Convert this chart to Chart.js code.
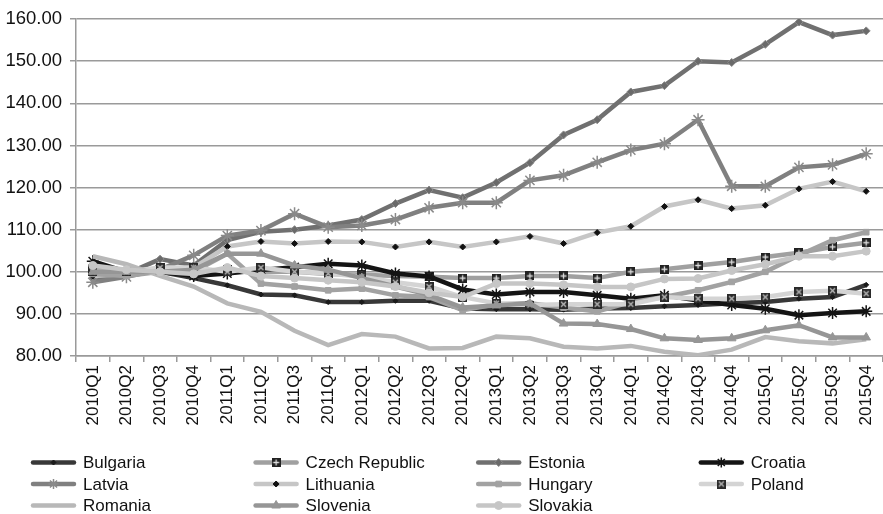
<!DOCTYPE html>
<html>
<head>
<meta charset="utf-8">
<script src="https://cdn.jsdelivr.net/npm/chart.js@4.4.1/dist/chart.umd.min.js"></script>
<style>
  html, body { margin: 0; padding: 0; background: #fff; }
  #wrap { width: 883px; height: 514px; position: relative; }
</style>
</head>
<body>
<div id="wrap"><canvas id="myChart"></canvas></div>
<script>
const quarters = ['2010Q1', '2010Q2', '2010Q3', '2010Q4', '2011Q1', '2011Q2', '2011Q3', '2011Q4',
    '2012Q1', '2012Q2', '2012Q3', '2012Q4', '2013Q1', '2013Q2', '2013Q3', '2013Q4',
    '2014Q1', '2014Q2', '2014Q3', '2014Q4', '2015Q1', '2015Q2', '2015Q3', '2015Q4'];

const bulgaria = [98.5, 99.5, 100, 98.5, 96.8, 94.6, 94.4, 92.8, 92.8, 93.1, 93.1, 91.3, 91.1, 91.1, 91.0, 91.3, 91.4, 91.8, 92.1, 92.5, 92.8, 93.6, 94.0, 96.9];
const czechRepublic = [100.5, 100, 100, 99.8, 100.5, 100.0, 100.0, 99.5, 99.3, 99.0, 98.8, 98.5, 98.5, 99.0, 99.0, 98.5, 100.0, 100.6, 101.5, 102.3, 103.5, 104.5, 105.9, 106.9];
const estonia = [98.5, 99.5, 103, 101.5, 107.5, 109.5, 110, 111, 112.4, 116.2, 119.4, 117.6, 121.2, 125.9, 132.5, 136.1, 142.7, 144.2, 150, 149.7, 154, 159.3, 156.2, 157.2];
const croatia = [102.5, 100, 100, 99, 99.6, 100.4, 101.1, 101.9, 101.5, 99.6, 98.9, 95.8, 94.6, 95.2, 95.2, 94.4, 93.6, 94.4, 93.2, 92.1, 91.2, 89.7, 90.2, 90.6];
const latvia = [97.5, 98.8, 100.5, 103.9, 108.6, 109.8, 113.8, 110.6, 111.0, 112.4, 115.2, 116.4, 116.4, 121.7, 122.9, 126.0, 128.9, 130.4, 136.1, 120.3, 120.3, 124.8, 125.4, 128.0];
const lithuania = [99, 99.5, 100, 101, 106, 107.2, 106.7, 107.2, 107.1, 105.9, 107.1, 105.9, 107.1, 108.4, 106.7, 109.3, 110.8, 115.5, 117.1, 115.0, 115.8, 119.7, 121.4, 119.1];
const hungary = [99.5, 99, 100, 100, 104.3, 97.2, 96.5, 95.6, 96.0, 94.4, 94.0, 90.9, 92.3, 92.5, 91.5, 90.6, 92.8, 94.0, 95.6, 97.6, 100.0, 103.9, 107.5, 109.4];
const poland = [100, 100, 101, 101, 100, 101, 100, 99.6, 98.8, 97.5, 96.5, 94, 92.5, 92.1, 92.3, 92.3, 92.3, 94.0, 93.6, 93.6, 94.0, 95.2, 95.5, 94.8];
const romania = [103.7, 101.8, 99, 96.5, 92.5, 90.5, 86, 82.6, 85.2, 84.6, 81.8, 81.9, 84.6, 84.2, 82.2, 81.8, 82.4, 81, 80.2, 81.5, 84.5, 83.5, 83, 84];
const slovenia = [100, 100, 100, 100.5, 104.3, 104.3, 101.5, 100.5, 98.5, 96.5, 94.5, 91.5, 92.0, 92.5, 87.7, 87.6, 86.4, 84.2, 83.8, 84.2, 86.1, 87.3, 84.4, 84.4];
const slovakia = [101.5, 100.5, 100, 99.5, 101, 99, 98.5, 98, 97.5, 96.5, 95, 94, 97.2, 97.2, 96.9, 96.4, 96.4, 98.3, 98.4, 100.3, 101.8, 103.7, 103.7, 104.9];

const yTicks = [80, 90, 100, 110, 120, 130, 140, 150, 160];

// small square markers drawn on little canvases
function boxMarker(fill, mark, kind) {
    const c = document.createElement('canvas');
    c.width = 9; c.height = 9;
    const g = c.getContext('2d');
    g.fillStyle = fill;
    g.fillRect(0, 0, 9, 9);
    g.strokeStyle = mark;
    g.lineWidth = 1.3;
    g.beginPath();
    if (kind === 'plus') {
        g.moveTo(4.5, 1.5); g.lineTo(4.5, 7.5);
        g.moveTo(1.5, 4.5); g.lineTo(7.5, 4.5);
    } else {
        g.moveTo(2, 2); g.lineTo(7, 7);
        g.moveTo(7, 2); g.lineTo(2, 7);
    }
    g.stroke();
    return c;
}

function series(label, data, color, style, radius, pFill, pBorder, pWidth) {
    return {
        label: label,
        data: data,
        borderColor: color,
        backgroundColor: color,
        borderWidth: 4.5,
        tension: 0,
        fill: false,
        pointStyle: style,
        pointRadius: radius,
        pointHoverRadius: radius,
        pointBackgroundColor: pFill,
        pointBorderColor: pBorder,
        pointBorderWidth: pWidth
    };
}

const datasets = [
    series('Bulgaria', bulgaria, '#383838', 'rectRot', 2.5, '#1a1a1a', '#1a1a1a', 1),
    series('Czech Republic', czechRepublic, '#a0a0a0', boxMarker('#222', '#ddd', 'plus'), 5, '#222', '#222', 0),
    series('Estonia', estonia, '#707070', 'rectRot', 4, '#6a6a6a', '#8a8a8a', 1),
    series('Croatia', croatia, '#141414', 'star', 6, '#141414', '#141414', 1.5),
    series('Latvia', latvia, '#808080', 'star', 6.5, '#8a8a8a', '#8a8a8a', 1.5),
    series('Lithuania', lithuania, '#c6c6c6', 'rectRot', 3, '#111', '#111', 1),
    series('Hungary', hungary, '#a2a2a2', 'rect', 4, '#a2a2a2', '#a2a2a2', 1),
    series('Poland', poland, '#d4d4d4', boxMarker('#2a2a2a', '#bbb', 'x'), 5, '#222', '#222', 0),
    series('Romania', romania, '#b8b8b8', 'circle', 0, '#b8b8b8', '#b8b8b8', 0),
    series('Slovenia', slovenia, '#969696', 'triangle', 5, '#969696', '#969696', 1),
    series('Slovakia', slovakia, '#c6c6c6', 'circle', 4, '#c6c6c6', '#c6c6c6', 1)
];
// later series painted on top, like the original
datasets.forEach((d, i) => { d.order = datasets.length - i; });

// four-column legend under the axis
const gridLegend = {
    id: 'gridLegend',
    afterDraw(chart) {
        const ctx = chart.ctx;
        ctx.save();
        chart.data.datasets.forEach((ds, i) => {
            const x0 = 33 + (i % 4) * 222.6;
            const y = 462.5 + Math.floor(i / 4) * 21.5;
            ctx.strokeStyle = ds.borderColor;
            ctx.lineWidth = 4.5;
            ctx.lineCap = 'round';
            ctx.beginPath();
            ctx.moveTo(x0, y);
            ctx.lineTo(x0 + 41, y);
            ctx.stroke();
            if (ds.pointRadius > 0) {
                ctx.fillStyle = ds.pointBackgroundColor;
                ctx.strokeStyle = ds.pointBorderColor;
                ctx.lineWidth = ds.pointBorderWidth;
                ctx.lineCap = 'butt';
                Chart.helpers.drawPoint(ctx, {
                    pointStyle: ds.pointStyle,
                    radius: Math.min(ds.pointRadius, 5),
                    rotation: 0,
                    borderWidth: ds.pointBorderWidth
                }, x0 + 20.5, y);
            }
            ctx.fillStyle = '#111';
            ctx.font = '17px "Liberation Sans"';
            ctx.textBaseline = 'middle';
            ctx.textAlign = 'left';
            ctx.fillText(ds.label, x0 + 50, y + 1);
        });
        ctx.restore();
    }
};

const ctx = document.getElementById('myChart');
new Chart(ctx, {
    type: 'line',
    data: {
        labels: quarters,
        datasets: datasets
    },
    options: {
        responsive: true,
        maintainAspectRatio: false,
        devicePixelRatio: 1,
        animation: false,
        events: [],
        layout: {
            autoPadding: false,
            // the plot runs a little past the right edge in the original
            padding: { top: 18, right: -3, bottom: 74, left: 0 }
        },
        plugins: {
            legend: { display: false },
            tooltip: { enabled: false }
        },
        scales: {
            x: {
                offset: true,
                afterFit(scale) {
                    scale.height = 84;
                    scale.paddingLeft = 0;
                    scale.paddingRight = 0;
                },
                grid: {
                    offset: true,
                    drawOnChartArea: false,
                    drawTicks: true,
                    tickLength: 6,
                    color: '#9a9a9a',
                    lineWidth: 1.5
                },
                border: { display: true, color: '#9a9a9a', width: 1.5 },
                ticks: {
                    autoSkip: false,
                    maxRotation: 90,
                    minRotation: 90,
                    padding: 3,
                    color: '#111',
                    font: { family: 'Liberation Sans', size: 17 }
                }
            },
            y: {
                min: yTicks[0],
                max: yTicks[yTicks.length - 1],
                afterFit(scale) { scale.width = 76; },
                afterBuildTicks(scale) { scale.ticks = yTicks.map(v => ({ value: v })); },
                grid: {
                    color: '#9a9a9a',
                    lineWidth: 1.5,
                    tickLength: 6
                },
                border: { display: true, color: '#9a9a9a', width: 1.5 },
                ticks: {
                    padding: 8,
                    color: '#111',
                    font: { family: 'Liberation Sans', size: 18.5 },
                    callback: v => Number(v).toFixed(2)
                }
            }
        }
    },
    plugins: [gridLegend]
});
</script>
</body>
</html>
